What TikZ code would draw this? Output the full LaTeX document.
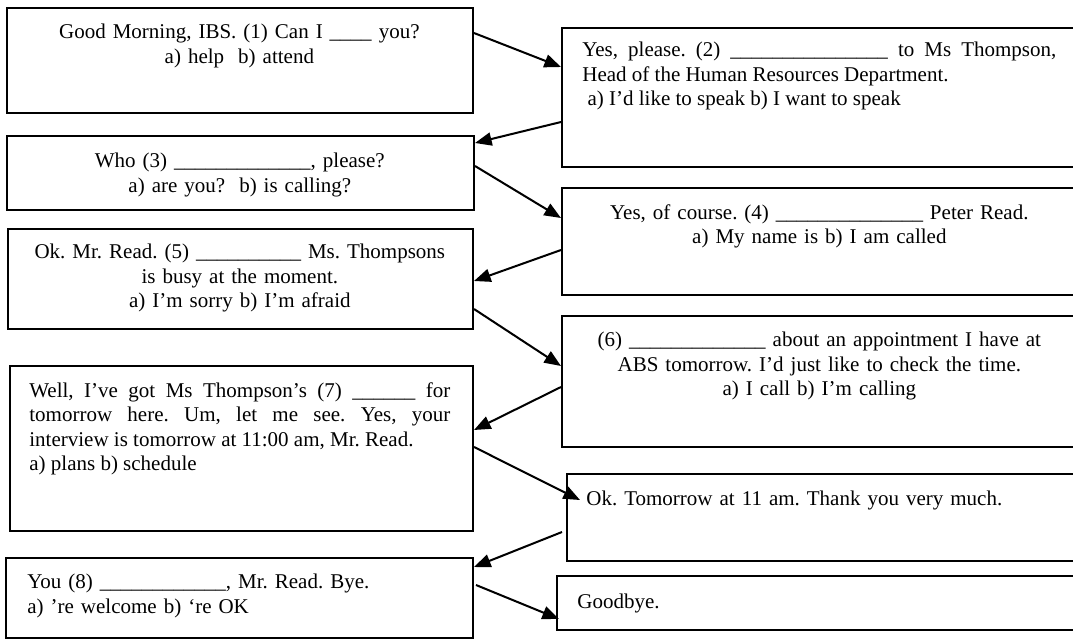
\documentclass[tikz,border=0pt]{standalone}
\usepackage{fontspec}
\setmainfont{Liberation Serif}
\usetikzlibrary{arrows.meta,calc}
\newlength\px
\setlength\px{0.5714pt}

\begin{document}
\frenchspacing
\begin{tikzpicture}[x=\px, y=-\px,
    box/.style={draw, line width=1.15pt, inner sep=0pt, anchor=north west},
    txt/.style={inner sep=0pt, anchor=north west, font=\fontsize{12}{14}\selectfont},
    arr/.style={line width=1.15pt, -{Triangle[length=9.5pt,width=7.5pt]}}]
  \useasboundingbox (0,0) rectangle (1073,639);
  % left column
  \node[box, minimum width=466\px, minimum height=105\px] (b1) at (6,7) {};
  \node[box, minimum width=467\px, minimum height=74\px] (b3) at (6,135) {};
  \node[box, minimum width=465\px, minimum height=100\px] (b5) at (7,228) {};
  \node[box, minimum width=463\px, minimum height=165\px] (b7) at (9,365) {};
  \node[box, minimum width=467\px, minimum height=80\px] (b9) at (5,557) {};
  % right column
  \node[box, minimum width=529\px, minimum height=139\px] (b2) at (561,27) {};
  \node[box, minimum width=529\px, minimum height=107\px] (b4) at (561,187) {};
  \node[box, minimum width=529\px, minimum height=131\px] (b6) at (561,315) {};
  \node[box, minimum width=524\px, minimum height=87\px] (b8) at (566,473) {};
  \node[box, minimum width=534\px, minimum height=54\px] (b10) at (556,575) {};

  \node[txt, text width=424\px, align=center] (t1) at ($(b1.north west)+(21,17)$)
    {Good Morning, IBS. (1) Can I \_\_\_\_ you?\\ a) help~ b) attend};
  \node[txt, text width=474\px, align=justify] (t2) at ($(b2.north west)+(21,15)$)
    {\noindent Yes, please. (2) \_\_\_\_\_\_\_\_\_\_\_\_\_\_\_ to Ms Thompson,\linebreak
     Head of the Human Resources Department.\newline
     \hspace*{.25em}a) I’d like to speak b) I want to speak};
  \node[txt, text width=425\px, align=center] (t3) at ($(b3.north west)+(21,18)$)
    {Who (3) \_\_\_\_\_\_\_\_\_\_\_\_\_, please?\\ a) are you?~ b) is calling?};
  \node[txt, text width=474\px, align=center] (t4) at ($(b4.north west)+(21,17)$)
    {Yes, of course. (4) \_\_\_\_\_\_\_\_\_\_\_\_\_\_ Peter Read.\\ a) My name is b) I am called};
  \node[txt, text width=423\px, align=center] (t5) at ($(b5.north west)+(21,16)$)
    {Ok. Mr. Read. (5) \_\_\_\_\_\_\_\_\_\_ Ms. Thompsons\\ is busy at the moment.\\ a) I’m sorry b) I’m afraid};
  \node[txt, text width=474\px, align=center] (t6) at ($(b6.north west)+(21,17)$)
    {(6) \_\_\_\_\_\_\_\_\_\_\_\_\_ about an appointment I have at\\ ABS tomorrow. I’d just like to check the time.\\ a) I call b) I’m calling};
  \node[txt, text width=421\px, align=justify] (t7) at ($(b7.north west)+(20,17)$)
    {\noindent Well, I’ve got Ms Thompson’s (7) \_\_\_\_\_\_ for\linebreak
     tomorrow here. Um, let me see. Yes, your\linebreak
     interview is tomorrow at 11:00 am, Mr. Read.\newline
     a) plans b) schedule};
  \node[txt, text width=474\px, align=left] (t8) at ($(b8.north west)+(20,18)$)
    {Ok. Tomorrow at 11 am. Thank you very much.};
  \node[txt, text width=424\px, align=left] (t9) at ($(b9.north west)+(22,17)$)
    {You (8) \_\_\_\_\_\_\_\_\_\_\_\_, Mr. Read. Bye.\\ a) ’re welcome b) ‘re OK};
  \node[txt, text width=474\px, align=left] (t10) at ($(b10.north west)+(21,19)$)
    {Goodbye.};

  % the dialogue, zig-zag
  \draw[arr] ($(b1.north east)+(0,26)$) -- ($(b2.north west)+(0,40)$);
  \draw[arr] ($(b2.north west)+(0,95)$) -- ($(b3.north east)+(0,8)$);
  \draw[arr] ($(b3.north east)+(0,31)$) -- ($(b4.north west)+(0,31)$);
  \draw[arr] ($(b4.north west)+(0,63)$) -- ($(b5.north east)+(0,53)$);
  \draw[arr] ($(b5.north east)+(0,81)$) -- ($(b6.north west)+(0,51)$);
  \draw[arr] ($(b6.north west)+(0,72)$) -- ($(b7.north east)+(0,65)$);
  \draw[arr] ($(b7.north east)+(0,82)$) -- ($(b8.north west)+(14,27)$);
  \draw[arr] ($(b8.north west)+(-4,59)$) -- ($(b9.north east)+(0,10)$);
  \draw[arr] ($(b9.north east)+(2,28)$) -- ($(b10.north west)+(3,44)$);
\end{tikzpicture}
\end{document}
